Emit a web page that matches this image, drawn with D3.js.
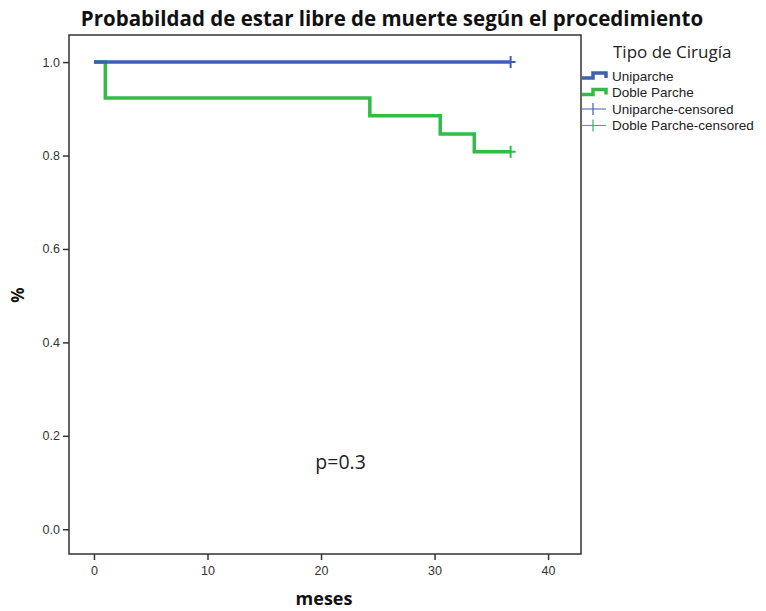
<!DOCTYPE html>
<html>
<head>
<meta charset="utf-8">
<script src="https://cdn.jsdelivr.net/npm/d3@7"></script>
<style>
  body { margin: 0; background: #fff; }
  svg { display: block; font-family: "Open Sans", "DejaVu Sans", sans-serif; }
  .tick line, .domain { stroke: #333; }
</style>
</head>
<body>
<div id="chart"></div>
<script>
// Kaplan-Meier curves
var seriesNames = ['Uniparche', 'Doble Parche'];
var seriesColors = ['#3f5fb3', '#33bb48'];

var uniTimes = [0, 36.7];
var uniSurv = [1.0, 1.0];

var dobleTimes = [0, 1, 24.3, 30.5, 33.5, 36.7];
var dobleSurv = [1.0, 0.923, 0.885, 0.846, 0.808, 0.808];

// censored marks (last follow-up)
var censorTimes = [36.7, 36.7];
var censorSurv = [1.0, 0.808];

var xTicks = [0, 10, 20, 30, 40];
var yTicks = [0.0, 0.2, 0.4, 0.6, 0.8, 1.0];

var width = 766, height = 611;
var margin = {top: 35, right: 185, bottom: 57, left: 69};
var w = width - margin.left - margin.right;
var h = height - margin.top - margin.bottom;

var svg = d3.select('#chart').append('svg')
    .attr('width', width)
    .attr('height', height);

var x = d3.scaleLinear().domain([-2.2, 42.9]).range([0, w]);
var y = d3.scaleLinear().domain([-0.053, 1.058]).range([h, 0]);

var g = svg.append('g')
    .attr('transform', 'translate(' + margin.left + ',' + margin.top + ')');

// frame
g.append('rect')
    .attr('x', 0).attr('y', 0)
    .attr('width', w).attr('height', h)
    .attr('fill', 'none')
    .attr('stroke', '#333')
    .attr('stroke-width', 1.5);

function styleAxis(a) {
    a.select('.domain').remove();
    a.selectAll('.tick line').attr('stroke-width', 1.5);
    a.selectAll('.tick text').attr('font-size', 12.5).attr('fill', '#333');
}

g.append('g')
    .attr('transform', 'translate(0,' + h + ')')
    .call(d3.axisBottom(x).tickValues(xTicks).tickSize(6).tickPadding(6).tickFormat(d3.format('d')))
    .call(styleAxis);

g.append('g')
    .call(d3.axisLeft(y).tickValues(yTicks).tickSize(6).tickPadding(3).tickFormat(d3.format('.1f')))
    .call(styleAxis);

var line = d3.line()
    .x(function(d) { return x(d[0]); })
    .y(function(d) { return y(d[1]); })
    .curve(d3.curveStepAfter);

var curves = [
    d3.zip(uniTimes, uniSurv),
    d3.zip(dobleTimes, dobleSurv)
];

// draw green first so blue sits on top at 1.0
[1, 0].forEach(function(i) {
    g.append('path')
        .datum(curves[i])
        .attr('fill', 'none')
        .attr('stroke', seriesColors[i])
        .attr('stroke-width', 3.5)
        .attr('d', line);
});

// censor crosses
censorTimes.forEach(function(t, i) {
    var cx = x(t), cy = y(censorSurv[i]);
    g.append('path')
        .attr('d', 'M' + (cx - 5) + ',' + cy + 'H' + (cx + 5) + 'M' + cx + ',' + (cy - 6) + 'V' + (cy + 6))
        .attr('stroke', seriesColors[i])
        .attr('stroke-width', 2);
});

g.append('text')
    .attr('x', x(19.5))
    .attr('y', y(0.13))
    .attr('font-size', 19.5)
    .attr('fill', '#222')
    .text('p=0.3');

// title
svg.append('text')
    .attr('x', 392)
    .attr('y', 26)
    .attr('text-anchor', 'middle')
    .attr('font-size', 20.5)
    .attr('font-weight', 'bold')
    .attr('fill', '#111')
    .text('Probabildad de estar libre de muerte según el procedimiento');

// axis titles
svg.append('text')
    .attr('x', 324)
    .attr('y', 605)
    .attr('text-anchor', 'middle')
    .attr('font-size', 18)
    .attr('font-weight', 'bold')
    .attr('fill', '#111')
    .text('meses');

svg.append('text')
    .attr('transform', 'translate(24,295) rotate(-90)')
    .attr('text-anchor', 'middle')
    .attr('font-size', 17)
    .attr('font-weight', 'bold')
    .attr('fill', '#111')
    .text('%');

// legend
var lg = svg.append('g').attr('transform', 'translate(582,0)');
lg.append('text')
    .attr('x', 31).attr('y', 58)
    .attr('font-size', 17)
    .attr('fill', '#222')
    .text('Tipo de Cirugía');

var legendLabels = [seriesNames[0], seriesNames[1], seriesNames[0] + '-censored', seriesNames[1] + '-censored'];
var legendY = [76, 92.5, 109, 125.5];

legendLabels.forEach(function(lab, i) {
    var yy = legendY[i];
    var col = seriesColors[i % 2];
    if (i < 2) {
        lg.append('path')
            .attr('d', 'M0,' + (yy + 2) + 'H11V' + (yy - 3) + 'H24V' + (yy + 2))
            .attr('fill', 'none')
            .attr('stroke', col)
            .attr('stroke-width', 3.5);
    } else {
        lg.append('path')
            .attr('d', 'M0,' + yy + 'H24M11,' + (yy - 6) + 'V' + (yy + 6))
            .attr('stroke', col)
            .attr('stroke-width', 1.2);
    }
    lg.append('text')
        .attr('x', 30).attr('y', yy + 4.5)
        .attr('font-family', '"Liberation Sans", Arial, sans-serif')
        .attr('font-size', 13.5)
        .attr('fill', '#222')
        .text(lab);
});
</script>
</body>
</html>
